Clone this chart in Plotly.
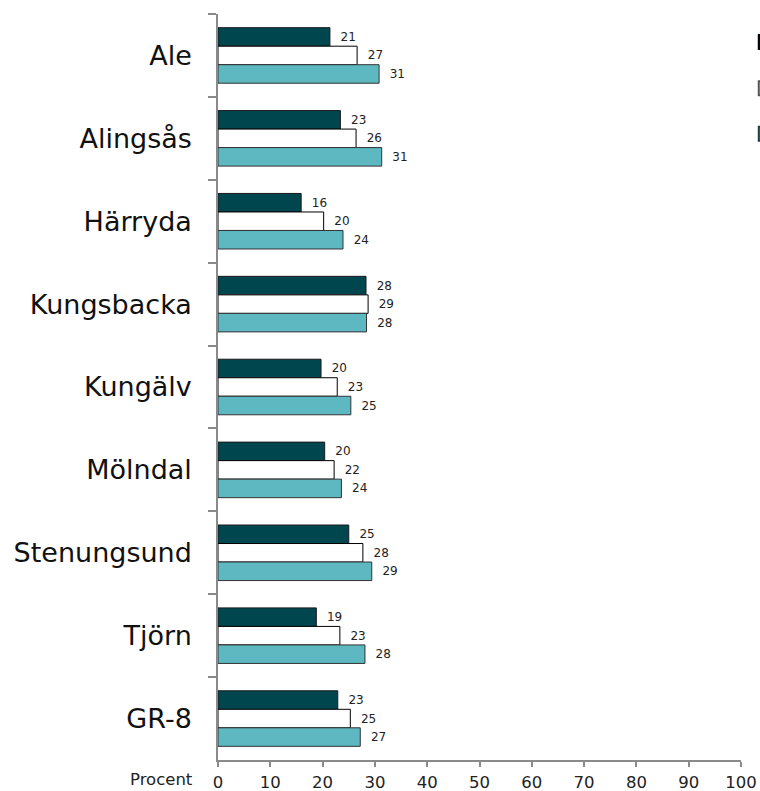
import plotly.graph_objects as go

categories = ["Ale", "Alingsås", "Härryda", "Kungsbacka", "Kungälv", "Mölndal",
              "Stenungsund", "Tjörn", "GR-8"]
series_a = [21.4, 23.4, 15.9, 28.3, 19.7, 20.4, 25.0, 18.8, 22.9]
series_b = [26.6, 26.4, 20.2, 28.7, 22.8, 22.2, 27.7, 23.3, 25.3]
series_c = [30.8, 31.3, 23.9, 28.4, 25.4, 23.6, 29.4, 28.1, 27.2]
series_names = ["Serie 1", "Serie 2", "Serie 3"]
x_ticks = [0, 10, 20, 30, 40, 50, 60, 70, 80, 90, 100]

fills = ["#00464F", "#FFFFFF", "#5DB8C1"]
edges = ["#1a1a1a", "#000000", "#333333"]

fig = go.Figure()
for vals, name, fc, ec in zip([series_a, series_b, series_c], series_names, fills, edges):
    fig.add_trace(go.Bar(
        y=categories, x=vals, orientation="h", name=name,
        marker=dict(color=fc, line=dict(color=ec, width=1)),
        text=vals, texttemplate="\u00a0\u00a0%{x:.0f}", textposition="outside",
        textfont=dict(family="DejaVu Sans", size=12, color="#222222"),
        cliponaxis=False, showlegend=False,
    ))

fig.update_layout(
    width=760, height=791,
    margin=dict(l=218, r=19, t=14, b=31),
    paper_bgcolor="white", plot_bgcolor="white",
    barmode="group", bargap=0.33, bargroupgap=0,
    font=dict(family="DejaVu Sans", color="#111111"),
    showlegend=False,
)
fig.update_yaxes(
    type="category", autorange="reversed", tickson="boundaries",
    ticks="outside", ticklen=8, tickcolor="#8a8a8a", tickwidth=1.5,
    showline=True, linecolor="#8a8a8a", linewidth=1.5, showgrid=False,
    tickfont=dict(family="DejaVu Sans", size=27, color="#111111"),
    ticklabelstandoff=19, automargin=False,
)
fig.update_xaxes(
    range=[0, 100], tickvals=x_ticks, ticktext=[str(v) for v in x_ticks],
    ticks="outside", ticklen=5, tickcolor="#8a8a8a", tickwidth=1.5,
    showline=True, linecolor="#8a8a8a", linewidth=1.5, showgrid=False,
    zeroline=False, ticklabelstandoff=1, automargin=False,
    tickfont=dict(family="DejaVu Sans", size=16.5, color="#222222"),
)
fig.add_annotation(
    text="Procent", xref="paper", yref="paper", x=-0.044, y=0,
    xanchor="right", yanchor="top", yshift=-8, showarrow=False,
    font=dict(family="DejaVu Sans", size=16.5, color="#222222"),
)
# partially visible legend keys at the right edge
legend_y = [(0.953, 0.972), (0.891, 0.910), (0.830, 0.849)]
for (y0, y1), fc, ec in zip(legend_y, fills, ["#000000", "#555555", "#1f3f3f"]):
    fig.add_shape(type="rect", xref="paper", yref="paper", x0=1.034, x1=1.06,
                  y0=y0, y1=y1, fillcolor=fc, line=dict(color=ec, width=2))

post = "document.body.style.margin='0';document.body.style.overflow='hidden';"
fig.write_html("out.html", config={"displayModeBar": False}, post_script=post)
